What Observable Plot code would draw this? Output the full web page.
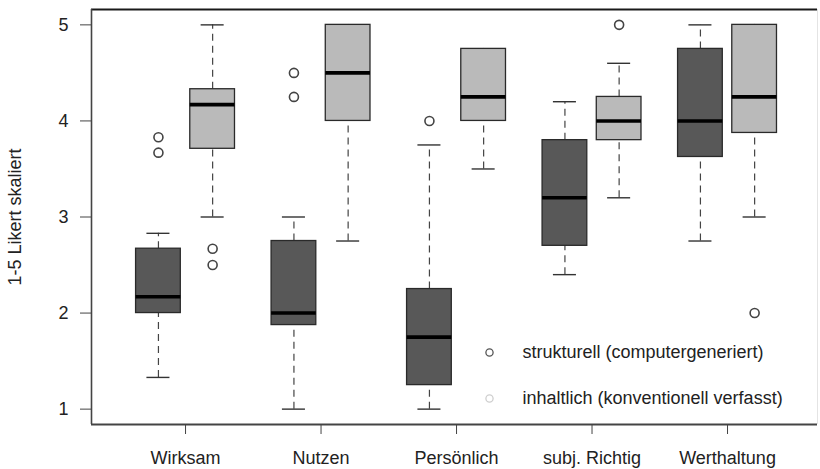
<!DOCTYPE html>
<html>
<head>
<meta charset="utf-8">
<script src="https://cdn.jsdelivr.net/npm/d3@7"></script>
<script src="https://cdn.jsdelivr.net/npm/@observablehq/plot@0.6"></script>
<style>
  html, body { margin: 0; padding: 0; background: #fff; }
  #chart svg { display: block; }
</style>
</head>
<body>
<div id="chart"></div>
<script>
// ---- data ----
const categories = ["Wirksam", "Nutzen", "Persönlich", "subj. Richtig", "Werthaltung"];
const groups = ["strukturell (computergeneriert)", "inhaltlich (konventionell verfasst)"];
const yTicks = [1, 2, 3, 4, 5];
const yLabel = "1-5 Likert skaliert";

// strukturell (computergeneriert) – dark boxes
const strukLow  = [1.33, 1.0, 1.0, 2.4, 2.75];
const strukQ1   = [2.0, 1.875, 1.25, 2.7, 3.625];
const strukMed  = [2.17, 2.0, 1.75, 3.2, 4.0];
const strukQ3   = [2.67, 2.75, 2.25, 3.8, 4.75];
const strukHigh = [2.83, 3.0, 3.75, 4.2, 5.0];
const strukOut  = [[3.67, 3.83], [4.25, 4.5], [4.0], [], []];

// inhaltlich (konventionell verfasst) – light boxes
const inhaltLow  = [3.0, 2.75, 3.5, 3.2, 3.0];
const inhaltQ1   = [3.71, 4.0, 4.0, 3.8, 3.875];
const inhaltMed  = [4.17, 4.5, 4.25, 4.0, 4.25];
const inhaltQ3   = [4.33, 5.0, 4.75, 4.25, 5.0];
const inhaltHigh = [5.0, 5.0, 4.75, 4.6, 5.0];
const inhaltOut  = [[2.5, 2.67], [], [], [5.0], [2.0]];

// ---- layout / style ----
const fills = ["#585858", "#bababa"];
const legendStroke = ["#555", "#cfcfcf"];
const offsets = [-0.2, 0.2];
const halfW = 0.165;
const capW = 0.085;
const xDomain = [0.306, 5.664];
const yDomain = [0.84, 5.16];
const font = "'Liberation Sans', Arial, Helvetica, sans-serif";

const sets = [
  {low: strukLow, q1: strukQ1, med: strukMed, q3: strukQ3, high: strukHigh, out: strukOut},
  {low: inhaltLow, q1: inhaltQ1, med: inhaltMed, q3: inhaltQ3, high: inhaltHigh, out: inhaltOut}
];

const boxes = [];
const outliers = [];
sets.forEach((s, g) => {
  categories.forEach((c, i) => {
    const pos = i + 1 + offsets[g];
    boxes.push({cat: c, group: g, pos, low: s.low[i], q1: s.q1[i], med: s.med[i], q3: s.q3[i], high: s.high[i]});
    s.out[i].forEach(v => outliers.push({cat: c, group: g, pos, v}));
  });
});

const legend = groups.map((g, i) => ({label: g, i}));
const legendDy = [-72, -26];

const chart = Plot.plot({
  width: 820,
  height: 469,
  marginLeft: 91,
  marginRight: 3,
  marginTop: 9,
  marginBottom: 45,
  style: {fontFamily: font, fontSize: "18px", color: "#222", background: "#fff"},
  x: {domain: xDomain, axis: null},
  y: {domain: yDomain, axis: null},
  marks: [
    // frame
    Plot.ruleY([yDomain[1]], {stroke: "#1a1a1a", strokeWidth: 2.2}),
    Plot.ruleY([yDomain[0]], {stroke: "#444", strokeWidth: 1.8}),
    Plot.ruleX([xDomain[0]], {stroke: "#444", strokeWidth: 1.6}),
    Plot.ruleX([xDomain[1]], {stroke: "#e4e4e4", strokeWidth: 1}),
    // axes
    Plot.axisY({ticks: yTicks, tickSize: 11, tickPadding: 12, fontSize: 18, stroke: "#444", tickFormat: d => d, label: null}),
    Plot.axisX({ticks: [1, 2, 3, 4, 5], tickSize: 10, tickPadding: 17, fontSize: 18, stroke: "#444",
      tickFormat: d => categories[d - 1], label: null}),
    Plot.text([yLabel], {frameAnchor: "left", textAnchor: "middle", dx: -76, rotate: -90, fontSize: 18, fill: "#222"}),
    // whiskers (dashed)
    Plot.ruleX(boxes, {x: "pos", y1: "q3", y2: "high", stroke: "#444", strokeWidth: 1.2, strokeDasharray: "7,5"}),
    Plot.ruleX(boxes, {x: "pos", y1: "low", y2: "q1", stroke: "#444", strokeWidth: 1.2, strokeDasharray: "7,5"}),
    // caps
    Plot.ruleY(boxes, {y: "high", x1: d => d.pos - capW, x2: d => d.pos + capW, stroke: "#333", strokeWidth: 1.4}),
    Plot.ruleY(boxes, {y: "low", x1: d => d.pos - capW, x2: d => d.pos + capW, stroke: "#333", strokeWidth: 1.4}),
    // boxes
    Plot.rect(boxes, {x1: d => d.pos - halfW, x2: d => d.pos + halfW, y1: "q1", y2: "q3",
      fill: d => fills[d.group], stroke: "#2a2a2a", strokeWidth: 1.3}),
    // medians
    Plot.ruleY(boxes, {y: "med", x1: d => d.pos - halfW, x2: d => d.pos + halfW, stroke: "#000", strokeWidth: 3.6}),
    // outliers
    Plot.dot(outliers, {x: "pos", y: "v", r: 4.5, stroke: "#444", strokeWidth: 1.6, fill: "#fff"}),
    // legend (inside the plot, lower right)
    ...legend.map(d => Plot.dot([d], {frameAnchor: "bottom-left", dx: 398, dy: legendDy[d.i], r: 3.6,
      stroke: legendStroke[d.i], strokeWidth: 1.3, fill: "none"})),
    ...legend.map(d => Plot.text([d], {frameAnchor: "bottom-left", dx: 431, dy: legendDy[d.i], text: "label",
      textAnchor: "start", lineAnchor: "middle", fontSize: 18, fill: "#222"}))
  ]
});
document.getElementById("chart").append(chart);
</script>
</body>
</html>
